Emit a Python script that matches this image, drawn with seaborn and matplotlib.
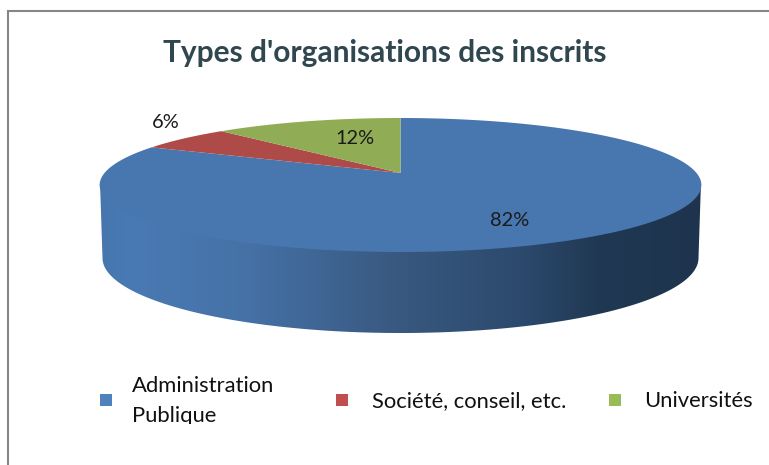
import numpy as np
import matplotlib
matplotlib.use("Agg")
import matplotlib.pyplot as plt
import seaborn as sns
from matplotlib.colors import LinearSegmentedColormap
from matplotlib.patches import Rectangle, PathPatch
from matplotlib.path import Path
from matplotlib.transforms import Transform, Affine2D

categories = ["Administration\nPublique", "Société, conseil, etc.", "Universités"]
values = [82, 6, 12]
title = "Types d'organisations des inscrits"

top_colors = ["#4877b0", "#ae4a47", "#90ad55"]
legend_colors = sns.color_palette(["#4f81bd", "#c0504d", "#9bbb59"])

sns.set_theme(style="white")
plt.rcParams["font.family"] = ["Lato", "DejaVu Sans"]

W, H = 769, 465
fig = plt.figure(figsize=(W / 100, H / 100), dpi=100, facecolor="white")
ax = fig.add_axes([0, 0, 1, 1])


class Perspective(Transform):
    """Tilted view of the unit pie disc, in pixel coordinates."""
    input_dims = output_dims = 2

    def __init__(self, cx=400.5, cy=173, a=296, b=64.85, k=0.179):
        super().__init__()
        self.p = cx, cy, a, b, k

    def transform_non_affine(self, xy):
        cx, cy, a, b, k = self.p
        xy = np.asarray(xy, float)
        w = 1 + k * xy[:, 1]
        return np.column_stack([cx + a * xy[:, 0] / w, cy - b * xy[:, 1] / w])

    def transform_path_non_affine(self, path):
        # flatten the wedge's curves finely before bending them
        poly = path.to_polygons(Affine2D().scale(2000), closed_only=True)[0] / 2000
        return Path(self.transform_non_affine(poly), closed=False)


wedges, _, autotexts = ax.pie(
    values, colors=top_colors, startangle=90, counterclock=False,
    autopct=lambda p: f"{p:.0f}%", textprops={"fontsize": 14.4, "color": "#1a1a1a"},
    wedgeprops={"linewidth": 0},
)
ax.set_aspect("auto")
ax.set_xlim(0, W)
ax.set_ylim(H, 0)
ax.set_axis_off()

proj = Perspective()
for w in wedges:
    w.set_transform(proj + ax.transData)
    w.set_zorder(3)

for t, pos in zip(autotexts, [(510, 220), (166, 122), (355, 138)]):
    t.set_position(pos)
    t.set_ha("center")
    t.set_va("center")
    t.set_zorder(4)

# side wall of the disc; its upper edge runs under the top face so no seam shows
th = np.linspace(np.pi, 2 * np.pi, 300)
top_x = 400.5 + 300.5 * np.cos(th)
top_y = 182 - 64 * np.sin(th)
bot_x = 400.5 + 298 * np.cos(th)
bot_y = 258 - 75 * np.sin(th)
verts = np.vstack([np.column_stack([top_x, top_y]), np.column_stack([bot_x, bot_y])[::-1]])
wall = PathPatch(Path(np.vstack([verts, verts[0]]), closed=True), facecolor="none",
                 edgecolor="none", transform=ax.transData)
ax.add_patch(wall)
stops = [(0.0, "#4676ad"), (0.05, "#4a7ab4"), (0.25, "#4571a6"), (0.5, "#38587f"), (0.7, "#2c4a6d"),
         (0.83, "#203853"), (1.0, "#1e344e")]
cmap = LinearSegmentedColormap.from_list("wall", stops)
im = ax.imshow(np.linspace(0, 1, 512)[None, :], cmap=cmap, aspect="auto",
               extent=(99, 702, 340, 175), zorder=2, interpolation="bilinear")
im.set_clip_path(wall)
ax.set_xlim(0, W)
ax.set_ylim(H, 0)

# frame
ax.plot([8, 8, W + 2], [H + 2, 11, 11], color="#868686", lw=1.5, solid_joinstyle="miter", zorder=1)

ax.text(385, 53, title, ha="center", va="center", fontsize=21.5, fontweight="bold", color="#31474f")

# legend
clip = Rectangle((0, 360), W, 64, transform=ax.transData)
for name, c, mx, tx in zip(categories, legend_colors, [106.2, 342, 615], [132, 372, 644]):
    ax.add_patch(Rectangle((mx - 5.8, 393.5), 11.6, 12.5, facecolor=c, edgecolor="none"))
    t = ax.text(tx, 401, name, ha="left", va="center", fontsize=15.8, color="#111111", linespacing=1.65)
    t.set_clip_on(True)
    t.set_clip_path(clip)

fig.savefig("out.png", dpi=100)
